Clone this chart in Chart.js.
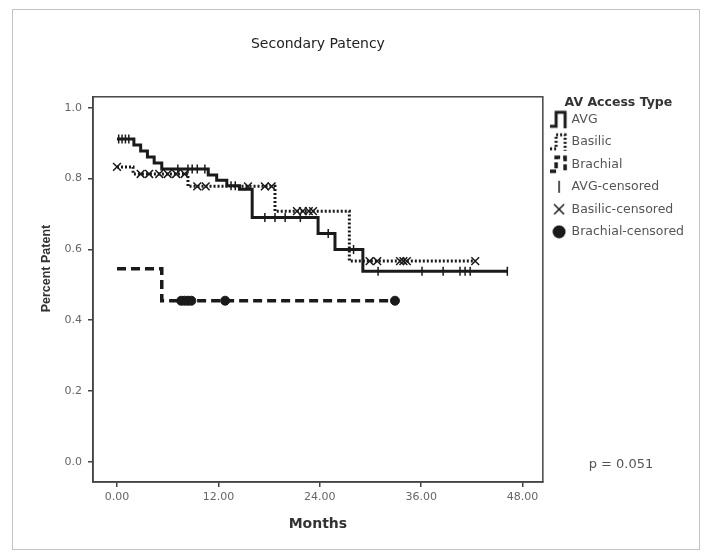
<!DOCTYPE html>
<html>
<head>
<meta charset="utf-8">
<script src="https://cdn.jsdelivr.net/npm/chart.js"></script>
<style>
  html, body { margin: 0; padding: 0; background: #fff; }
</style>
</head>
<body>
<canvas id="km" width="707" height="558"></canvas>
<script>
// Kaplan-Meier: secondary patency by AV access type

// survival steps (months, proportion patent)
const avgX = [0, 2.0, 2.8, 3.6, 4.4, 5.3, 10.8, 11.8, 13.0, 14.5, 16.0, 23.8, 25.8, 29.1, 46.2];
const avgY = [0.912, 0.895, 0.878, 0.861, 0.844, 0.827, 0.810, 0.795, 0.780, 0.770, 0.690, 0.645, 0.600, 0.538, 0.538];
const basX = [0, 1.9, 8.4, 18.7, 27.5, 42.4];
const basY = [0.833, 0.813, 0.778, 0.708, 0.567, 0.567];
const braX = [0, 5.3, 32.9];
const braY = [0.545, 0.455, 0.455];

// censored observations
const avgCensX = [0.2, 0.6, 1.0, 1.4, 7.2, 8.4, 8.9, 9.5, 10.4, 13.5, 14.0, 17.5, 18.7, 19.9, 21.7, 25.0, 28.0, 30.9, 36.1, 38.6, 40.6, 41.2, 41.8, 46.2];
const avgCensY = [0.912, 0.912, 0.912, 0.912, 0.827, 0.827, 0.827, 0.827, 0.827, 0.780, 0.780, 0.690, 0.690, 0.690, 0.690, 0.645, 0.600, 0.538, 0.538, 0.538, 0.538, 0.538, 0.538, 0.538];
const basCensX = [0, 2.8, 3.8, 5.0, 6.0, 7.0, 8.0, 9.5, 10.5, 15.5, 17.5, 18.3, 21.3, 22.0, 22.7, 23.2, 29.9, 30.8, 33.5, 33.9, 34.3, 42.4];
const basCensY = [0.833, 0.813, 0.813, 0.813, 0.813, 0.813, 0.813, 0.778, 0.778, 0.778, 0.778, 0.778, 0.708, 0.708, 0.708, 0.708, 0.567, 0.567, 0.567, 0.567, 0.567, 0.567];
const braCensX = [7.6, 8.0, 8.4, 8.8, 12.8, 32.9];
const braCensY = [0.455, 0.455, 0.455, 0.455, 0.455, 0.455];

const xTicks = [0, 12, 24, 36, 48];
const yTicks = [0, 0.2, 0.4, 0.6, 0.8, 1.0];
const seriesNames = ['AVG', 'Basilic', 'Brachial', 'AVG-censored', 'Basilic-censored', 'Brachial-censored'];

const ink = '#1a1a1a';
const pts = (xs, ys) => xs.map((x, i) => ({x: x, y: ys[i]}));

// little legend icons
function icon(w, h, draw) {
  const c = document.createElement('canvas');
  c.width = w; c.height = h;
  const g = c.getContext('2d');
  g.strokeStyle = ink; g.fillStyle = ink;
  draw(g);
  return c;
}
function stepIcon(dash, lw) {
  return icon(18, 20, g => {
    g.lineWidth = lw;
    g.setLineDash(dash);
    g.beginPath();
    g.moveTo(0, 17); g.lineTo(6, 17); g.lineTo(6, 3); g.lineTo(15, 3); g.lineTo(15, 19);
    g.stroke();
  });
}
const icons = [
  stepIcon([], 3),
  stepIcon([2, 2], 3),
  stepIcon([6, 3], 3.5),
  icon(10, 14, g => { g.lineWidth = 1.5; g.beginPath(); g.moveTo(5, 1); g.lineTo(5, 13); g.stroke(); }),
  icon(12, 12, g => { g.lineWidth = 1.5; g.beginPath(); g.moveTo(1, 1); g.lineTo(11, 11); g.moveTo(11, 1); g.lineTo(1, 11); g.stroke(); }),
  icon(14, 14, g => { g.beginPath(); g.arc(7, 7, 6.5, 0, Math.PI * 2); g.fill(); })
];

const framePlugin = {
  id: 'frame',
  beforeDraw(chart) {
    const ctx = chart.ctx;
    ctx.save();
    ctx.strokeStyle = '#c4c4c4';
    ctx.lineWidth = 1;
    ctx.strokeRect(12.5, 9.5, 687, 540);
    ctx.restore();
  },
  afterDraw(chart) {
    const {ctx, chartArea: a} = chart;
    ctx.save();
    ctx.strokeStyle = '#444';
    ctx.lineWidth = 1.5;
    ctx.strokeRect(a.left, a.top, a.right - a.left, a.bottom - a.top);
    ctx.fillStyle = '#555';
    ctx.font = '13px "DejaVu Sans"';
    ctx.textAlign = 'center';
    ctx.textBaseline = 'middle';
    ctx.fillText('p = 0.051', 621, 465);
    ctx.restore();
  }
};

new Chart(document.getElementById('km'), {
  type: 'line',
  data: {
    datasets: [
      { label: seriesNames[0], data: pts(avgX, avgY), stepped: 'before', borderColor: ink, borderWidth: 3, pointRadius: 0 },
      { label: seriesNames[1], data: pts(basX, basY), stepped: 'before', borderColor: ink, borderWidth: 3, borderDash: [2, 2], pointRadius: 0 },
      { label: seriesNames[2], data: pts(braX, braY), stepped: 'before', borderColor: ink, borderWidth: 3.5, borderDash: [9, 5], pointRadius: 0 },
      { label: seriesNames[3], data: pts(avgCensX, avgCensY), showLine: false, pointStyle: 'line', rotation: 90, pointRadius: 4.5, borderColor: ink, borderWidth: 1.5 },
      { label: seriesNames[4], data: pts(basCensX, basCensY), showLine: false, pointStyle: 'crossRot', pointRadius: 5.5, borderColor: ink, borderWidth: 1.5 },
      { label: seriesNames[5], data: pts(braCensX, braCensY), showLine: false, pointStyle: 'circle', pointRadius: 4.5, backgroundColor: ink, borderColor: ink, borderWidth: 1 }
    ]
  },
  options: {
    responsive: false,
    animation: false,
    layout: { padding: { left: 13, right: 13, top: 20, bottom: 16 } },
    plugins: {
      title: {
        display: true,
        fullSize: false,
        text: 'Secondary Patency',
        color: '#222',
        font: { family: '"DejaVu Sans"', size: 14, weight: 'normal' },
        padding: { top: 16, bottom: 44 }
      },
      legend: {
        position: 'right',
        align: 'start',
        fullSize: false,
        title: {
          display: true,
          text: 'AV Access Type',
          color: '#333',
          font: { family: '"DejaVu Sans"', size: 12.5, weight: 'bold', lineHeight: 0.5 },
          padding: 0
        },
        labels: {
          usePointStyle: true,
          padding: 10,
          color: '#555',
          font: { family: '"DejaVu Sans"', size: 12.5 },
          generateLabels: chart => chart.data.datasets.map((ds, i) => ({
            text: ds.label,
            pointStyle: icons[i],
            fontColor: '#555',
            fillStyle: 'transparent',
            strokeStyle: 'transparent',
            lineWidth: 0,
            hidden: false,
            datasetIndex: i
          }))
        }
      },
      tooltip: { enabled: false }
    },
    scales: {
      x: {
        type: 'linear',
        min: -2.84,
        max: 50.4,
        afterBuildTicks: s => { s.ticks = xTicks.map(v => ({value: v})); },
        afterFit: s => { s.height = 60; },
        ticks: { color: '#666', font: { family: '"DejaVu Sans"', size: 11 }, padding: 4, maxRotation: 0, callback: v => v.toFixed(2) },
        grid: { drawOnChartArea: false, drawTicks: true, tickLength: 5, color: '#444', lineWidth: 1.5 },
        border: { display: true, color: '#444', width: 1.5 },
        title: { display: true, text: 'Months', color: '#333', font: { family: '"DejaVu Sans"', size: 14, weight: 'bold' }, padding: { top: 4, bottom: 9 } }
      },
      y: {
        type: 'linear',
        min: -0.057,
        max: 1.031,
        afterBuildTicks: s => { s.ticks = yTicks.map(v => ({value: v})); },
        afterFit: s => { s.width = 80; },
        ticks: { color: '#666', font: { family: '"DejaVu Sans"', size: 11 }, padding: 6, callback: v => v.toFixed(1) },
        grid: { drawOnChartArea: false, drawTicks: true, tickLength: 5, color: '#444', lineWidth: 1.5 },
        border: { display: true, color: '#444', width: 1.5 },
        // leading spaces lift the rotated label a little above centre, as in the original
        title: { display: true, text: '\u00a0'.repeat(12) + 'Percent Patent', color: '#333', font: { family: 'Arial, "Liberation Sans"', size: 12.5, weight: 'bold' }, padding: { top: 26, bottom: 0 } }
      }
    }
  },
  plugins: [framePlugin]
});
</script>
</body>
</html>
